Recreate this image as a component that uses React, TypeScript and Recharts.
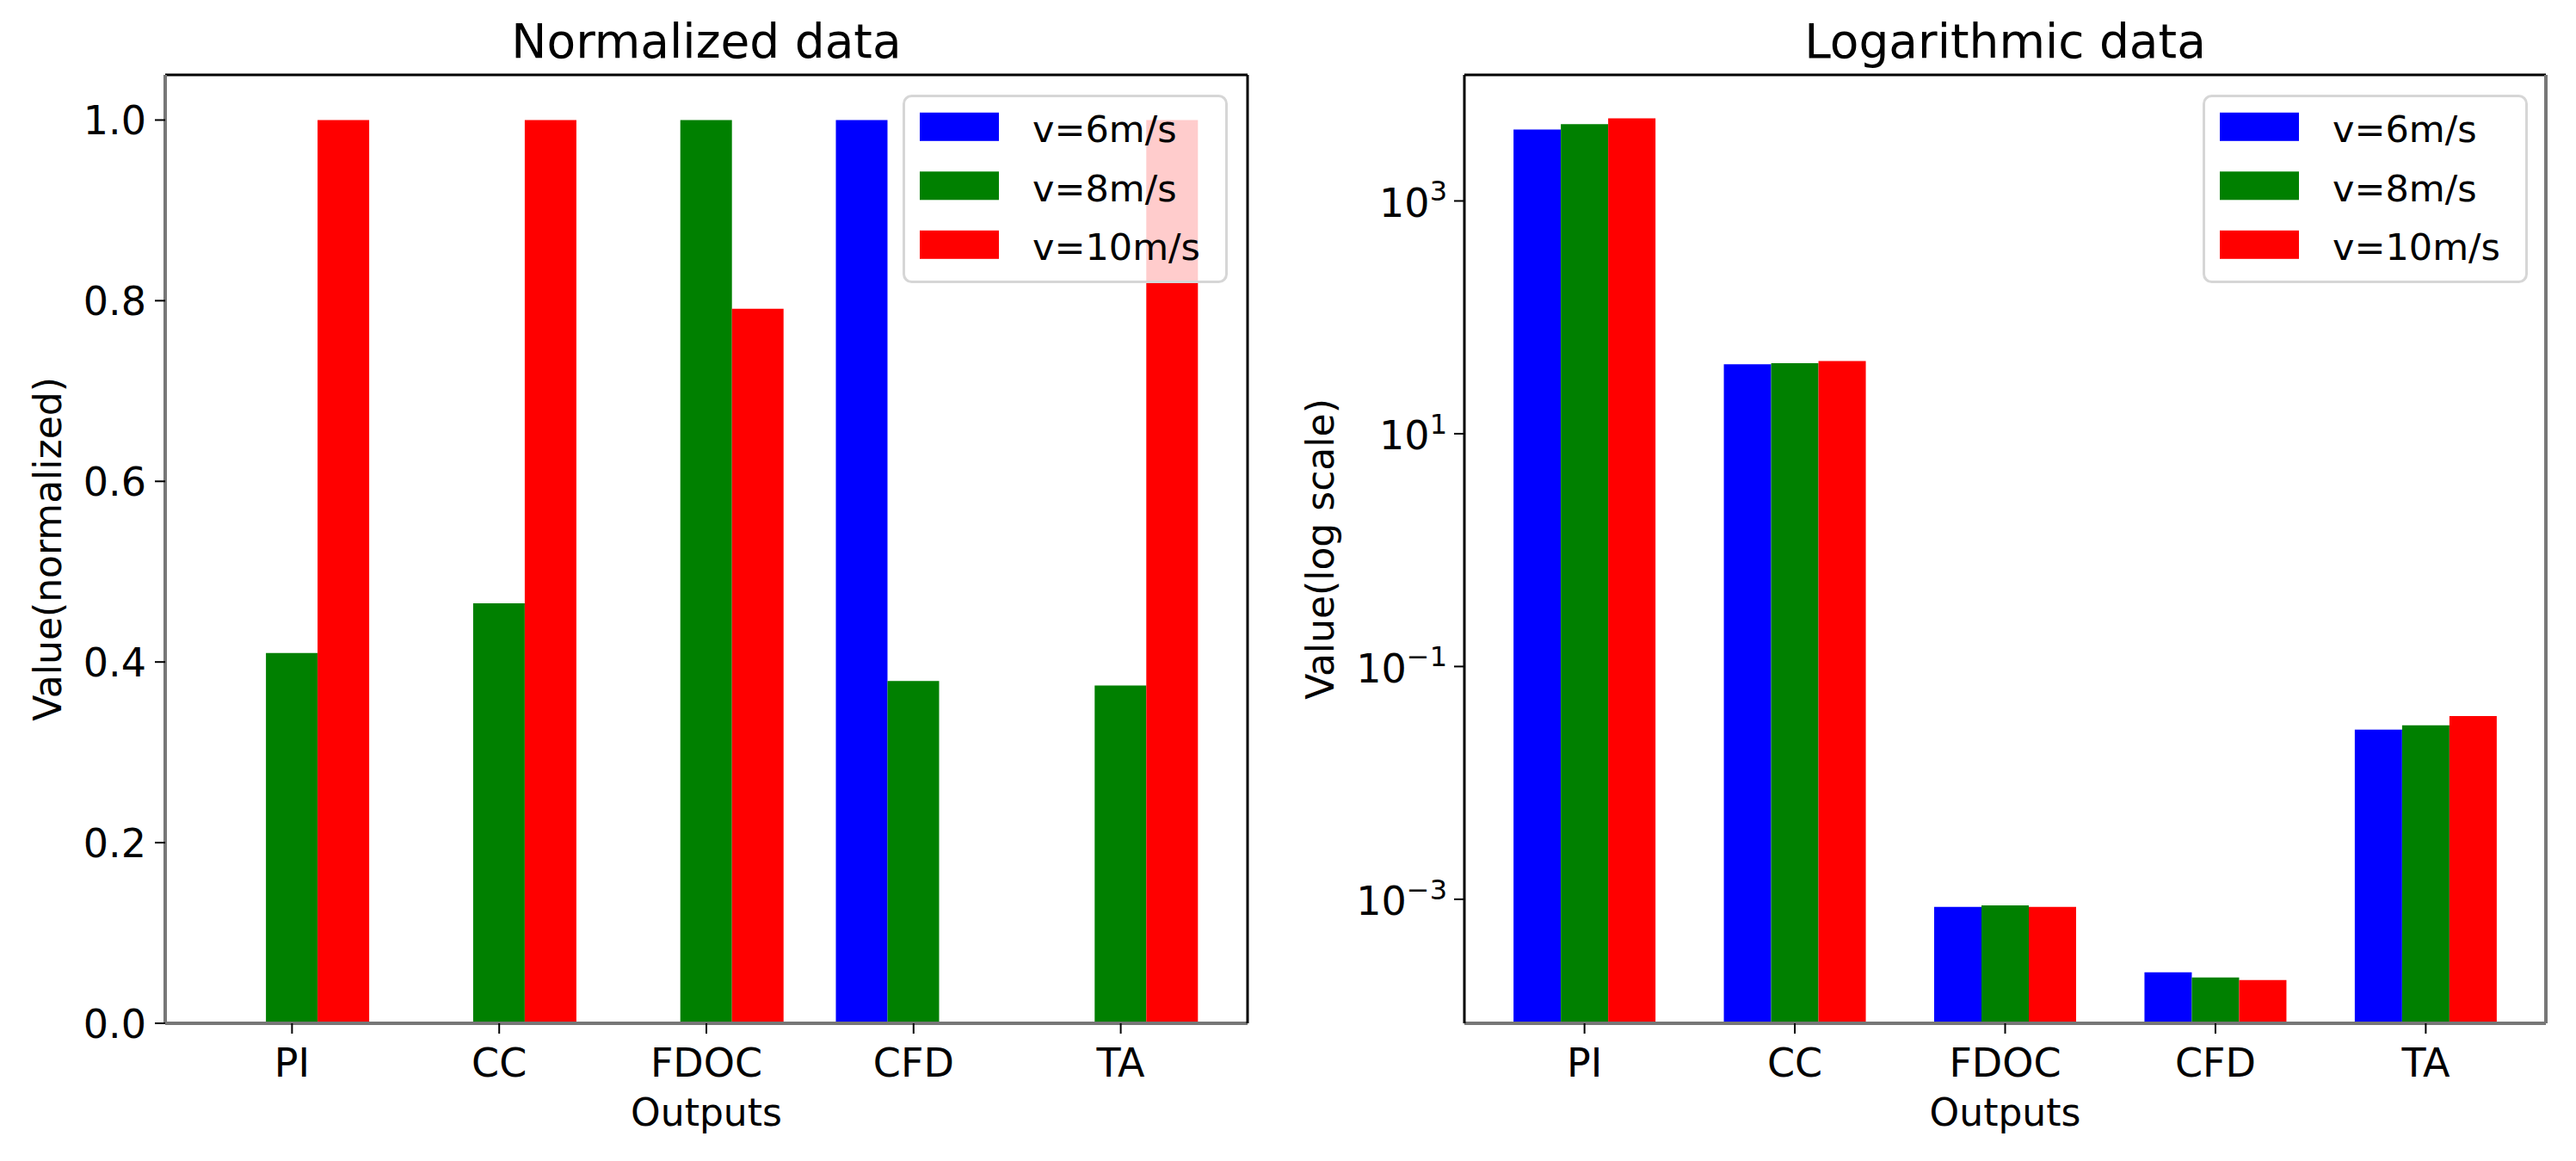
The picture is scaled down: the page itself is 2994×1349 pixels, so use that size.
import React from "react";
import { BarChart, Bar, XAxis, YAxis, Legend } from "recharts";

const CATEGORIES = ["PI", "CC", "FDOC", "CFD", "TA"];
const SERIES_LABELS = ["v=6m/s", "v=8m/s", "v=10m/s"];
const SERIES_COLORS = ["#0000ff", "#008000", "#ff0000"];

const NORM_6 = [0, 0, 0, 1.0, 0];
const NORM_8 = [0.41, 0.465, 1.0, 0.379, 0.374];
const NORM_10 = [1.0, 1.0, 0.791, 0, 1.0];

const LOG_6 = [4110, 39.6, 8.6e-4, 2.36e-4, 0.0287];
const LOG_8 = [4570, 40.4, 8.85e-4, 2.13e-4, 0.0312];
const LOG_10 = [5130, 42.1, 8.6e-4, 2.02e-4, 0.0375];

const NORM_TICKS = [0, 0.2, 0.4, 0.6, 0.8, 1.0];
const LOG_TICKS = [1e-3, 1e-1, 1e1, 1e3];

const TITLES = ["Normalized data", "Logarithmic data"];
const X_LABEL = "Outputs";
const Y_LABELS = ["Value(normalized)", "Value(log scale)"];

const FONT = "'DejaVu Sans', sans-serif";
const KEYS = ["s6", "s8", "s10"];

const normData = CATEGORIES.map((name, i) => ({ name, s6: NORM_6[i], s8: NORM_8[i], s10: NORM_10[i] }));
const logData = CATEGORIES.map((name, i) => ({ name, s6: LOG_6[i], s8: LOG_8[i], s10: LOG_10[i] }));

const XTick = (props: any) => {
  const { x, y, payload } = props;
  return (
    <text x={x} y={y} dy={50} textAnchor="middle" fontSize={46} fontFamily={FONT} fill="#000">
      {payload.value}
    </text>
  );
};

const NormTick = (props: any) => {
  const { x, y, payload } = props;
  return (
    <text x={x} y={y} dy={17} textAnchor="end" fontSize={46} fontFamily={FONT} fill="#000">
      {Number(payload.value).toFixed(1)}
    </text>
  );
};

const LogTick = (props: any) => {
  const { x, y, payload } = props;
  const e = Math.round(Math.log10(payload.value));
  const sup = e < 0 ? "\u2212" + Math.abs(e) : String(e);
  return (
    <text x={x} y={y} textAnchor="end" fontSize={46} fontFamily={FONT} fill="#000">
      <tspan dy={18.4}>10</tspan>
      <tspan dy={-18.7} fontSize={32}>{sup}</tspan>
    </text>
  );
};

const LEG_W = 378;
const LEG_H = 219;

const LegendBox = () => {
  return (
    <svg width={LEG_W} height={LEG_H} style={{ display: "block" }}>
      <rect x={1.5} y={1.5} width={LEG_W - 3} height={LEG_H - 3} rx={9} ry={9}
        fill="#ffffff" fillOpacity={0.8} stroke="#d6d6d6" strokeWidth={3} />
      {SERIES_LABELS.map((label, i) => (
        <g key={label}>
          <rect x={20} y={20.8 + 68.5 * i} width={92} height={33} fill={SERIES_COLORS[i]} />
          <text x={151} y={55 + 68.5 * i} fontSize={43} fontFamily={FONT} fill="#000">
            {label}
          </text>
        </g>
      ))}
    </svg>
  );
};

const axisGray = { stroke: "#777777", strokeWidth: 4 };
const axisBlack = { stroke: "#000000", strokeWidth: 3 };
const tickLine = { stroke: "#000000", strokeWidth: 2 };

export default function App() {
  return (
    <div style={{ position: "absolute", left: 0, top: 0, width: 2994, height: 1349, background: "#fff", overflow: "hidden" }}>
      <div style={{ position: "absolute", left: 0, top: 0 }}>
        <BarChart width={1500} height={1349} data={normData}
          margin={{ top: 86, right: 49, bottom: 60, left: 42 }}
          barCategoryGap="12.5%" barGap={0}>
          <XAxis dataKey="name" height={100} padding={{ left: 27, right: 27 }}
            axisLine={axisGray} tickLine={tickLine} tickSize={12} tickMargin={0} tick={<XTick />} interval={0} />
          <XAxis xAxisId="top" dataKey="name" orientation="top" height={1} tick={false} tickLine={false}
            axisLine={axisBlack} padding={{ left: 27, right: 27 }} />
          <YAxis width={150} domain={[0, 1.05]} ticks={NORM_TICKS} allowDataOverflow
            axisLine={axisGray} tickLine={tickLine} tickSize={12} tickMargin={10} tick={<NormTick />} interval={0} />
          <YAxis yAxisId="r" orientation="right" width={1} tick={false} tickLine={false} axisLine={axisBlack} />
          <Legend layout="vertical" align="center" verticalAlign="middle" content={<LegendBox />}
            wrapperStyle={{ position: "absolute", left: 1049, top: 110, width: LEG_W, height: LEG_H }} />
          {KEYS.map((k, i) => (
            <Bar key={k} dataKey={k} name={SERIES_LABELS[i]} fill={SERIES_COLORS[i]} isAnimationActive={false} />
          ))}
        </BarChart>
      </div>
      <div style={{ position: "absolute", left: 1500, top: 0 }}>
        <BarChart width={1494} height={1349} data={logData}
          margin={{ top: 86, right: 34, bottom: 60, left: 52 }}
          barCategoryGap="16.25%" barGap={0}>
          <XAxis dataKey="name" height={100} padding={{ left: 17.4, right: 17.4 }}
            axisLine={axisGray} tickLine={tickLine} tickSize={12} tickMargin={0} tick={<XTick />} interval={0} />
          <XAxis xAxisId="top" dataKey="name" orientation="top" height={1} tick={false} tickLine={false}
            axisLine={axisBlack} padding={{ left: 17.4, right: 17.4 }} />
          <YAxis width={150} scale="log" type="number" domain={[8.6e-5, 12110]} ticks={LOG_TICKS} allowDataOverflow
            axisLine={axisBlack} tickLine={tickLine} tickSize={12} tickMargin={8} tick={<LogTick />} interval={0} />
          <YAxis yAxisId="r" orientation="right" width={1} tick={false} tickLine={false} axisLine={axisGray} />
          <Legend layout="vertical" align="center" verticalAlign="middle" content={<LegendBox />}
            wrapperStyle={{ position: "absolute", left: 1060, top: 110, width: LEG_W, height: LEG_H }} />
          {KEYS.map((k, i) => (
            <Bar key={k} dataKey={k} name={SERIES_LABELS[i]} fill={SERIES_COLORS[i]} isAnimationActive={false} />
          ))}
        </BarChart>
      </div>
      <svg width={2994} height={1349} style={{ position: "absolute", left: 0, top: 0, pointerEvents: "none" }}>
        <text x={821} y={67} textAnchor="middle" fontSize={55} fontFamily={FONT} fill="#000">{TITLES[0]}</text>
        <text x={2330.5} y={67} textAnchor="middle" fontSize={55} fontFamily={FONT} fill="#000">{TITLES[1]}</text>
        <text x={821} y={1308} textAnchor="middle" fontSize={44} fontFamily={FONT} fill="#000">{X_LABEL}</text>
        <text x={2330.5} y={1308} textAnchor="middle" fontSize={44} fontFamily={FONT} fill="#000">{X_LABEL}</text>
        <text transform="translate(57,638) rotate(-90)" dy={14} textAnchor="middle" fontSize={44} fontFamily={FONT} fill="#000">{Y_LABELS[0]}</text>
        <text transform="translate(1535.5,638) rotate(-90)" dy={14} textAnchor="middle" fontSize={44} fontFamily={FONT} fill="#000">{Y_LABELS[1]}</text>
      </svg>
    </div>
  );
}
